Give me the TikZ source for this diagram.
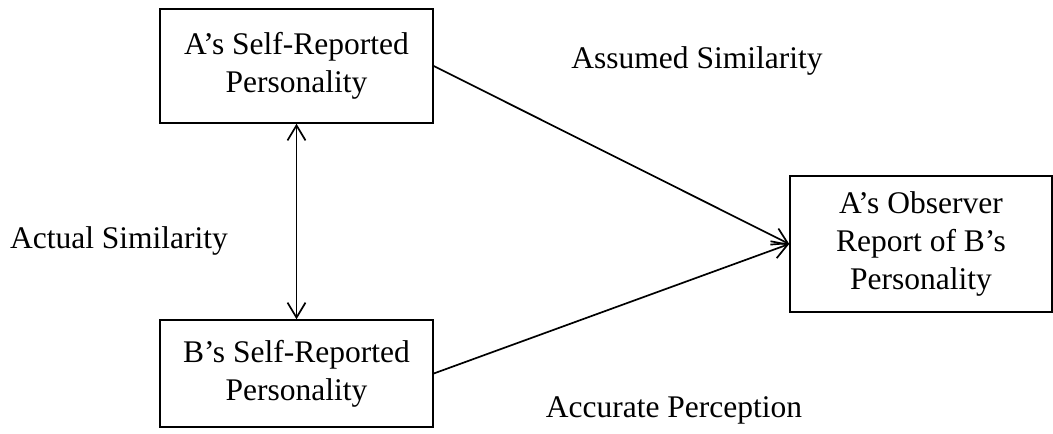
\documentclass[tikz,border=0pt]{standalone}
\usepackage{fontspec}
\setmainfont{Liberation Serif}
\usetikzlibrary{arrows.meta}
\tikzset{
  box/.style={draw, line width=1.5pt, align=center, inner sep=0pt,
    font=\fontsize{31.5}{38}\selectfont},
  lbl/.style={anchor=base, inner sep=0pt, font=\fontsize{31.5}{38}\selectfont},
  tip/.style={Straight Barb[length=15pt,width=18pt,line width=1.7pt]},
  conn/.style={line width=1.7pt, -{Straight Barb[length=15pt,width=18pt,line width=1.7pt]}},
  dconn/.style={line width=1.7pt, {Straight Barb[length=15pt,width=18pt,line width=1.7pt]}-{Straight Barb[length=15pt,width=18pt,line width=1.7pt]}}
}
\begin{document}
\begin{tikzpicture}[x=1pt,y=-1pt]
\useasboundingbox (0,0) rectangle (1053,434);
\node[box, minimum width=273pt, minimum height=114pt] (A) at (296.5,66) {A’s Self-Reported\\Personality};
\node[box, minimum width=273pt, minimum height=107pt] (B) at (296.5,373.5) {B’s Self-Reported\\Personality};
\node[box, minimum width=262pt, minimum height=136pt] (C) at (921,244) {A’s Observer\\Report of B’s\\Personality};
\node[lbl] (as) at (697,68) {Assumed Similarity};
\node[lbl] (acs) at (119,248) {Actual Similarity};
\node[lbl] (ap) at (674,417) {Accurate Perception};
\draw[conn] (A.east) -- (C.west);
\draw[conn] (B.east) -- (C.west);
\draw[dconn] (A.south) -- (B.north);
\end{tikzpicture}
\end{document}
